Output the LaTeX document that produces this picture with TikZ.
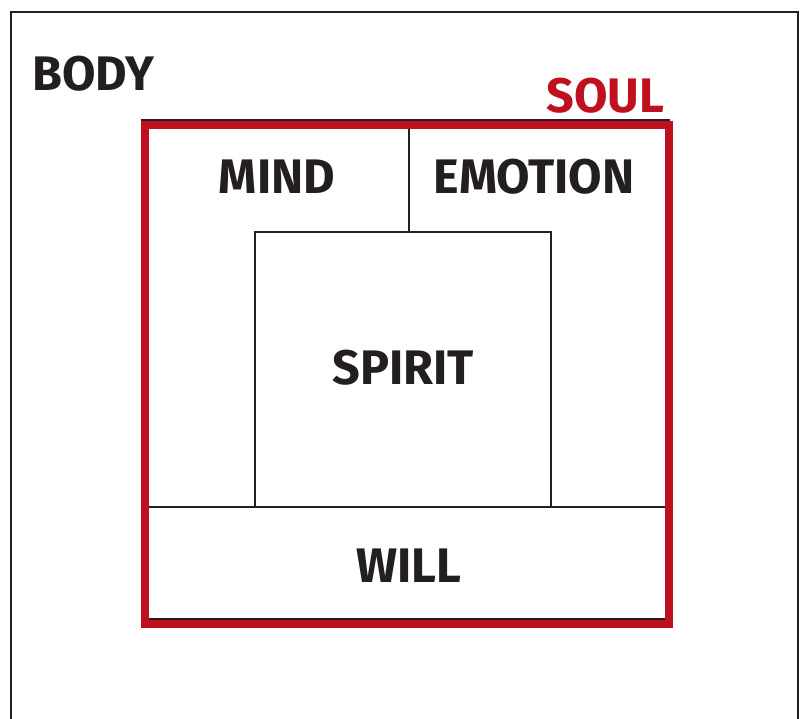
\documentclass[tikz,border=0pt]{standalone}
\usepackage{fontspec}
\setmainfont{Fira Sans}
\definecolor{ink}{RGB}{35,31,32}
\definecolor{soulred}{RGB}{190,16,30}
\begin{document}
\begin{tikzpicture}[x=1pt,y=-1pt,
  lbl/.style={font=\fontsize{48.5}{48.5}\selectfont\bfseries, text=ink, inner sep=0pt},
  rlbl/.style={lbl, text=soulred},
  inkline/.style={draw=ink, line width=2pt},
  soulbox/.style={draw=soulred, line width=7.5pt}]
\useasboundingbox (0,0) rectangle (802,719);
% body frame (open at the bottom)
\coordinate (bodyBL) at (11,730);
\coordinate (bodyTL) at (11,12);
\coordinate (bodyTR) at (798,12);
\coordinate (bodyBR) at (798,730);
\draw[inkline, line width=2.2pt] (bodyBL) -- (bodyTL) -- (bodyTR) -- (bodyBR);
\node[lbl] (body) at (93.5,73.5) {BODY};
% soul frame
\coordinate (soulTL) at (141,120);
\coordinate (soulTR) at (670,120);
\draw[inkline] (soulTL) -- (soulTR);
\coordinate (divT) at (409,120);
\node[inkline, minimum width=296pt, minimum height=275pt, inner sep=0pt, outer sep=0pt] (spirit) at (403,369.5) {};
\coordinate (divB) at (409,232);
\draw[inkline] (divT) -- (divB);
\coordinate (willL) at (149,507);
\coordinate (willR) at (665,507);
\draw[inkline] (willL) -- (spirit.south west);
\draw[inkline] (spirit.south east) -- (willR);
\coordinate (botL) at (149,618.5);
\coordinate (botR) at (665,618.5);
\draw[inkline] (botL) -- (botR);
\node[soulbox, minimum width=524pt, minimum height=499pt, inner sep=0pt, outer sep=0pt] (soul) at (407,374.5) {};
\node[rlbl] (soullbl) at (605.5,95.5) {SOUL};
\node[lbl] (mind) at (277,177) {MIND};
\node[lbl] (emotion) at (534,177) {EMOTION};
\node[lbl] (spiritlbl) at (403,367.5) {SPIRIT};
\node[lbl] (will) at (409,565.5) {WILL};
\end{tikzpicture}
\end{document}
